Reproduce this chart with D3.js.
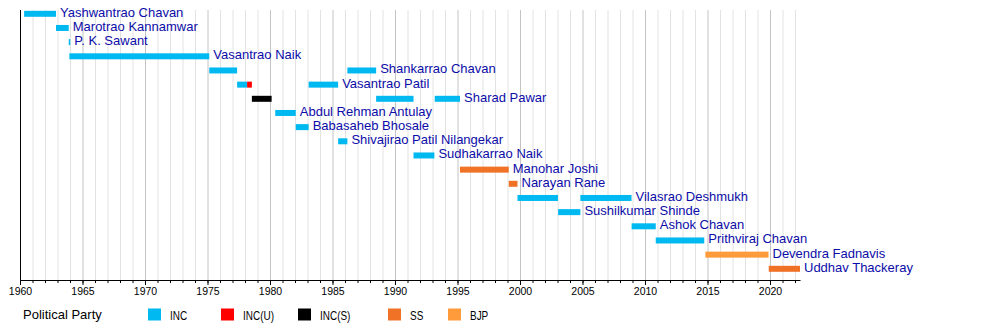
<!DOCTYPE html>
<html>
<head>
<meta charset="utf-8">
<script src="https://cdn.jsdelivr.net/npm/d3@7"></script>
<style>
  html, body { margin: 0; padding: 0; background: #fff; }
  svg { display: block; }
  text { font-family: "Liberation Sans", Arial, sans-serif; }
</style>
</head>
<body>
<svg id="chart" width="1000" height="330"></svg>
<script>
// ---- data ----
const rowNames = [
  "Yashwantrao Chavan", "Marotrao Kannamwar", "P. K. Sawant", "Vasantrao Naik",
  "Shankarrao Chavan", "Vasantrao Patil", "Sharad Pawar", "Abdul Rehman Antulay",
  "Babasaheb Bhosale", "Shivajirao Patil Nilangekar", "Sudhakarrao Naik",
  "Manohar Joshi", "Narayan Rane", "Vilasrao Deshmukh", "Sushilkumar Shinde",
  "Ashok Chavan", "Prithviraj Chavan", "Devendra Fadnavis", "Uddhav Thackeray"
];
const termNames = [
  "Yashwantrao Chavan", "Marotrao Kannamwar", "P. K. Sawant", "Vasantrao Naik",
  "Shankarrao Chavan", "Vasantrao Patil", "Vasantrao Patil", "Sharad Pawar",
  "Abdul Rehman Antulay", "Babasaheb Bhosale", "Vasantrao Patil",
  "Shivajirao Patil Nilangekar", "Shankarrao Chavan", "Sharad Pawar",
  "Sudhakarrao Naik", "Sharad Pawar", "Manohar Joshi", "Narayan Rane",
  "Vilasrao Deshmukh", "Sushilkumar Shinde", "Vilasrao Deshmukh",
  "Ashok Chavan", "Prithviraj Chavan", "Devendra Fadnavis", "Uddhav Thackeray"
];
const termStarts = [
  1960.33, 1962.88, 1963.90, 1963.95,
  1975.14, 1977.37, 1978.17, 1978.55,
  1980.42, 1982.06, 1983.09,
  1985.45, 1986.19, 1988.49,
  1991.48, 1993.18, 1995.20, 1999.10,
  1999.80, 2003.05, 2004.83,
  2008.93, 2010.86, 2014.83, 2019.90
];
const termEnds = [
  1962.88, 1963.90, 1964.02, 1975.14,
  1977.37, 1978.17, 1978.55, 1980.13,
  1982.06, 1983.09, 1985.45,
  1986.19, 1988.49, 1991.48,
  1993.15, 1995.20, 1999.10, 1999.80,
  2003.04, 2004.83, 2008.92,
  2010.86, 2014.74, 2019.88, 2022.40
];
const termParties = [
  "INC", "INC", "INC", "INC",
  "INC", "INC", "INC(U)", "INC(S)",
  "INC", "INC", "INC",
  "INC", "INC", "INC",
  "INC", "INC", "SS", "SS",
  "INC", "INC", "INC",
  "INC", "INC", "BJP", "SS"
];
const parties = ["INC", "INC(U)", "INC(S)", "SS", "BJP"];
const partyColors = ["#00B9F1", "#FF0000", "#000000", "#F07227", "#FF9B3A"];
const axisStart = 1960, axisEnd = 2022.4;
const majorTickYears = d3.range(1960, 2021, 5);
const minorTickYears = d3.range(1960, 2023, 1);
const legendTitle = "Political Party";

// ---- layout ----
const svg = d3.select("#chart");
const plotTop = 10, axisY = 280;
const x = d3.scaleLinear().domain([axisStart, axisEnd]).range([20, 800]);
const y = d3.scalePoint().domain(rowNames).range([13.8, 268.8]);
const color = d3.scaleOrdinal().domain(parties).range(partyColors);
const barH = 6;
const labelColor = "#0c0ca8";

// gridlines
svg.append("g").selectAll("line").data(minorTickYears).join("line")
  .attr("x1", d => x(d) + 0.5).attr("x2", d => x(d) + 0.5)
  .attr("y1", plotTop).attr("y2", axisY)
  .attr("stroke", d => d % 5 === 0 ? "#c4c4c4" : "#e2e2e2")
  .attr("stroke-width", 1);

// left axis line
svg.append("line")
  .attr("x1", x(axisStart) + 0.5).attr("x2", x(axisStart) + 0.5)
  .attr("y1", plotTop).attr("y2", axisY + 0.5)
  .attr("stroke", "#000").attr("stroke-width", 1);

// bars
const terms = termNames.map((n, i) => ({
  name: n, start: termStarts[i], end: termEnds[i], party: termParties[i]
}));
svg.append("g").selectAll("rect").data(terms).join("rect")
  .attr("x", d => x(d.start))
  .attr("width", d => Math.max(1.5, x(d.end) - x(d.start)))
  .attr("y", d => y(d.name) - barH / 2)
  .attr("height", barH)
  .attr("fill", d => color(d.party));

// labels after last term of each row
const lastEnd = d3.rollup(terms, v => d3.max(v, t => t.end), d => d.name);
svg.append("g").selectAll("text").data(rowNames).join("text")
  .attr("x", d => x(lastEnd.get(d)) + 4)
  .attr("y", d => y(d) + 2.9)
  .attr("font-size", 13)
  .attr("fill", labelColor)
  .text(d => d);

// axis: minor ticks
const minorAxis = svg.append("g").attr("transform", `translate(0,${axisY})`)
  .call(d3.axisBottom(x).tickValues(minorTickYears).tickSize(3).tickFormat(""));
minorAxis.select(".domain").remove();
// axis: major ticks with labels
const majorAxis = svg.append("g").attr("transform", `translate(0,${axisY})`)
  .call(d3.axisBottom(x).tickValues(majorTickYears).tickSize(5).tickSizeOuter(0).tickFormat(d3.format("d")));
svg.selectAll(".tick line").attr("stroke", "#000");
majorAxis.select(".domain").attr("stroke", "#000");
majorAxis.selectAll(".tick text")
  .attr("font-family", '"Liberation Sans", Arial, sans-serif')
  .attr("font-size", 10.5)
  .attr("fill", "#000")
  .attr("y", 8);

// legend
svg.append("text").attr("x", 23).attr("y", 318.5)
  .attr("font-size", 13).attr("fill", "#000").text(legendTitle);
const legendX = [148, 221, 298, 388, 448];
const lg = svg.append("g").selectAll("g").data(parties).join("g")
  .attr("transform", (d, i) => `translate(${legendX[i]},308.5)`);
lg.append("rect").attr("width", 13).attr("height", 12).attr("fill", d => color(d));
lg.append("text")
  .attr("transform", "translate(22,11.5) scale(0.83,1)")
  .attr("font-size", 12).attr("fill", "#000")
  .text(d => d);
</script>
</body>
</html>
